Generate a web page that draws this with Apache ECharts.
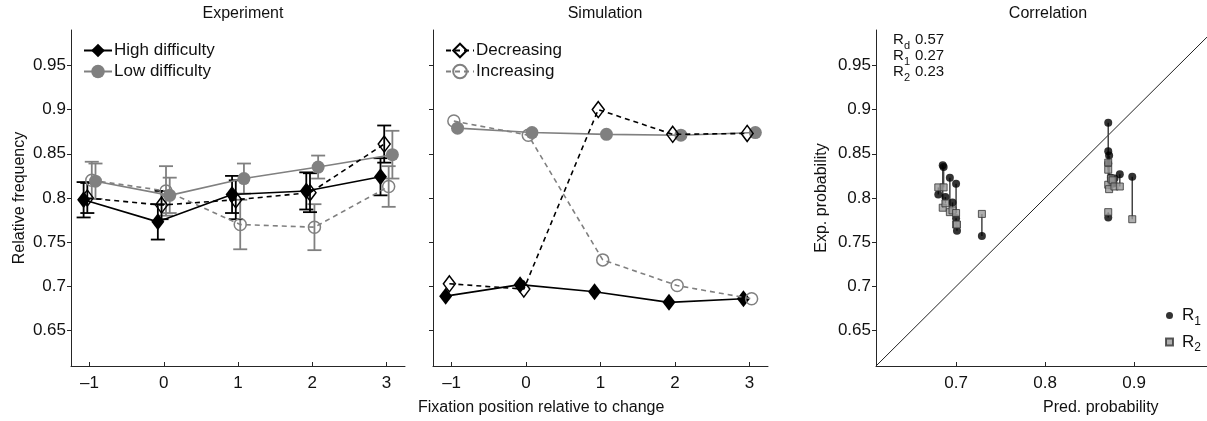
<!DOCTYPE html>
<html>
<head>
<meta charset="utf-8">
<script src="https://cdn.jsdelivr.net/npm/echarts@6/dist/echarts.min.js"></script>
<style>
  html, body { margin: 0; padding: 0; background: #fff; }
  #chart { width: 1207px; height: 421px; }
</style>
</head>
<body>
<div id="chart"></div>
<script>
// Fixation positions relative to the change
const positions = [-1, 0, 1, 2, 3];
const yTicks = [0.65, 0.7, 0.75, 0.8, 0.85, 0.9, 0.95];
const predTicks = [0.7, 0.8, 0.9];

// Experiment: means and error-bar half widths
const expHigh = [0.798, 0.773, 0.804, 0.808, 0.824];
const expHighErr = [0.020, 0.020, 0.021, 0.021, 0.021];
const expLow = [0.819, 0.803, 0.822, 0.835, 0.849];
const expLowErr = [0.020, 0.020, 0.017, 0.013, 0.027];
const expDec = [0.800, 0.792, 0.798, 0.806, 0.861];
const expDecErr = [0.017, 0.016, 0.022, 0.022, 0.021];
const expInc = [0.820, 0.808, 0.770, 0.767, 0.813];
const expIncErr = [0.021, 0.028, 0.028, 0.026, 0.023];

// Simulation
const simHigh = [0.689, 0.702, 0.694, 0.682, 0.686];
const simLow = [0.879, 0.874, 0.872, 0.871, 0.874];
const simDec = [0.703, 0.697, 0.900, 0.872, 0.873];
const simInc = [0.887, 0.871, 0.730, 0.701, 0.686];

// Correlation: predicted probability and the two experimental replicates
const corrPred = [0.680, 0.685, 0.686, 0.688, 0.693, 0.696, 0.700, 0.700, 0.701, 0.729,
                  0.871, 0.871, 0.871, 0.871, 0.872, 0.874, 0.876, 0.878, 0.884, 0.898];
const corrR1 = [0.804, 0.837, 0.835, 0.801, 0.823, 0.795, 0.816, 0.777, 0.763, 0.757,
                0.885, 0.853, 0.839, 0.778, 0.848, 0.823, 0.816, 0.822, 0.827, 0.824];
const corrR2 = [0.812, 0.789, 0.812, 0.794, 0.784, 0.786, 0.783, 0.770, 0.770, 0.782,
                0.840, 0.832, 0.815, 0.784, 0.810, 0.822, 0.820, 0.813, 0.813, 0.776];
const corrStats = [['d', '0.57'], ['1', '0.27'], ['2', '0.23']];

const FONT = 'Liberation Sans, Arial, sans-serif';
const GRAY = '#808080';
const OFF = { high: -0.08, low: 0.08, dec: -0.03, inc: 0.03 };

const chart = echarts.init(document.getElementById('chart'));

function pts(vals, off) { return positions.map((p, i) => [p + off, vals[i]]); }

function errBars(vals, errs, off, color) {
  return {
    type: 'custom', xAxisIndex: 0, yAxisIndex: 0, z: 1, silent: true,
    data: positions.map((p, i) => [p + off, vals[i], errs[i]]),
    encode: { x: 0, y: [1] },
    renderItem(params, api) {
      const x = api.value(0), m = api.value(1), e = api.value(2);
      const hi = api.coord([x, m + e]), lo = api.coord([x, m - e]);
      const w = 7, st = { stroke: color, lineWidth: 1.8 };
      return { type: 'group', children: [
        { type: 'line', shape: { x1: hi[0], y1: hi[1], x2: lo[0], y2: lo[1] }, style: st },
        { type: 'line', shape: { x1: hi[0] - w, y1: hi[1], x2: hi[0] + w, y2: hi[1] }, style: st },
        { type: 'line', shape: { x1: lo[0] - w, y1: lo[1], x2: lo[0] + w, y2: lo[1] }, style: st }
      ] };
    }
  };
}

const styles = {
  high: { name: 'High difficulty', symbol: 'diamond', symbolSize: [13, 17],
          itemStyle: { color: '#000' }, lineStyle: { color: '#000', width: 1.6, type: 'solid' } },
  low:  { name: 'Low difficulty', symbol: 'circle', symbolSize: 13,
          itemStyle: { color: GRAY }, lineStyle: { color: GRAY, width: 1.6, type: 'solid' } },
  dec:  { name: 'Decreasing', symbol: 'diamond', symbolSize: [12, 16],
          itemStyle: { color: 'rgba(255,255,255,0)', borderColor: '#000', borderWidth: 1.5 },
          lineStyle: { color: '#000', width: 1.6, type: [5, 4] } },
  inc:  { name: 'Increasing', symbol: 'circle', symbolSize: 12,
          itemStyle: { color: 'rgba(255,255,255,0)', borderColor: GRAY, borderWidth: 1.5 },
          lineStyle: { color: GRAY, width: 1.6, type: [5, 4] } }
};

function lineSeries(key, vals, axis, z) {
  const s = styles[key];
  return Object.assign({
    type: 'line', xAxisIndex: axis, yAxisIndex: axis, z: z,
    data: pts(vals, OFF[key]), showAllSymbol: true, animation: false,
    emphasis: { disabled: true }
  }, JSON.parse(JSON.stringify(s)));
}

const fmtPos = v => (v < 0 ? '\u2013' + Math.abs(v) : String(v));
const AXIS_LINE = { show: true, onZero: false, lineStyle: { color: '#262626', width: 1 } };

function posAxis(i) {
  return {
    type: 'value', gridIndex: i, min: -1.25, max: 3.25,
    axisLine: AXIS_LINE,
    axisTick: { show: true, inside: true, length: 4, customValues: positions, lineStyle: { color: '#262626' } },
    axisLabel: { customValues: positions, formatter: fmtPos, fontSize: 17, color: '#111', fontFamily: FONT, margin: 9 },
    splitLine: { show: false }
  };
}
function probAxis(i, labels) {
  return {
    type: 'value', gridIndex: i, min: 0.61, max: 0.99,
    axisLine: AXIS_LINE,
    axisTick: { show: true, inside: false, length: 4, customValues: yTicks, lineStyle: { color: '#262626' } },
    axisLabel: { show: labels, customValues: yTicks, fontSize: 17, color: '#111', fontFamily: FONT, margin: 5,
                 formatter: v => String(v) },
    splitLine: { show: false }
  };
}

const rich = {
  r: { fontSize: 17, fontFamily: FONT, color: '#111', lineHeight: 22, verticalAlign: 'middle' },
  s: { fontSize: 12, fontFamily: FONT, color: '#111', padding: [12, 0, 0, 0], verticalAlign: 'middle' }
};

const statTexts = [];
corrStats.forEach((st, i) => {
  const y = 32 + i * 16;
  statTexts.push({ type: 'text', left: 893, top: y, style: { text: 'R', font: '15px ' + FONT, fill: '#111' } });
  statTexts.push({ type: 'text', left: 904, top: y + 8, style: { text: st[0], font: '11px ' + FONT, fill: '#111' } });
  statTexts.push({ type: 'text', left: 915, top: y, style: { text: st[1], font: '15px ' + FONT, fill: '#111' } });
});

const option = {
  backgroundColor: '#fff',
  animation: false,
  textStyle: { fontFamily: FONT },
  title: [
    { text: 'Experiment', left: 238, top: 1, textAlign: 'center', textStyle: { fontSize: 16, fontWeight: 'normal', color: '#111', fontFamily: FONT } },
    { text: 'Simulation', left: 600, top: 1, textAlign: 'center', textStyle: { fontSize: 16, fontWeight: 'normal', color: '#111', fontFamily: FONT } },
    { text: 'Correlation', left: 1043, top: 1, textAlign: 'center', textStyle: { fontSize: 16, fontWeight: 'normal', color: '#111', fontFamily: FONT } }
  ],
  grid: [
    { left: 71, top: 30, width: 334, height: 336 },
    { left: 433, top: 30, width: 335, height: 336 },
    { left: 876, top: 30, width: 331, height: 336 }
  ],
  xAxis: [
    posAxis(0), posAxis(1),
    {
      type: 'value', gridIndex: 2, min: 0.61, max: 0.982,
      axisLine: AXIS_LINE,
      axisTick: { show: true, inside: true, length: 4, customValues: predTicks, lineStyle: { color: '#262626' } },
      axisLabel: { customValues: predTicks, fontSize: 17, color: '#111', fontFamily: FONT, margin: 9, formatter: v => String(v) },
      splitLine: { show: false }
    }
  ],
  yAxis: [probAxis(0, true), probAxis(1, false), probAxis(2, true)],
  legend: [
    { data: ['High difficulty', 'Low difficulty'], left: 78, top: 37, orient: 'vertical', itemGap: 4,
      itemWidth: 28, itemHeight: 17, selectedMode: false,
      textStyle: { fontSize: 17, color: '#111', fontFamily: FONT, padding: [0, 0, 0, -3] } },
    { data: ['Decreasing', 'Increasing'], left: 440, top: 37, orient: 'vertical', itemGap: 4,
      itemWidth: 28, itemHeight: 17, selectedMode: false,
      textStyle: { fontSize: 17, color: '#111', fontFamily: FONT, padding: [0, 0, 0, -3] } },
    { data: ['R1', 'R2'], left: 1160, top: 302, orient: 'vertical', itemGap: 6,
      itemWidth: 7, itemHeight: 7, selectedMode: false,
      formatter: n => '{r|R}{s|' + n.slice(1) + '}',
      textStyle: { rich: rich, padding: [0, 0, 0, 4] } }
  ],
  graphic: [
    { type: 'text', left: 418, top: 400, style: { text: 'Fixation position relative to change', font: '16px ' + FONT, fill: '#111', textAlign: 'center' } },
    { type: 'text', left: 1043, top: 400, style: { text: 'Pred. probability', font: '16px ' + FONT, fill: '#111', textAlign: 'center' } },
    { type: 'text', x: 20, y: 198, rotation: Math.PI / 2,
      style: { text: 'Relative frequency', font: '16px ' + FONT, fill: '#111', textAlign: 'center', textVerticalAlign: 'middle' } },
    { type: 'text', x: 822, y: 198, rotation: Math.PI / 2,
      style: { text: 'Exp. probability', font: '16px ' + FONT, fill: '#111', textAlign: 'center', textVerticalAlign: 'middle' } }
  ].concat(statTexts),
  series: [
    // Experiment panel
    errBars(expInc, expIncErr, OFF.inc, GRAY),
    errBars(expLow, expLowErr, OFF.low, GRAY),
    errBars(expDec, expDecErr, OFF.dec, '#000'),
    errBars(expHigh, expHighErr, OFF.high, '#000'),
    lineSeries('inc', expInc, 0, 3),
    lineSeries('low', expLow, 0, 4),
    lineSeries('dec', expDec, 0, 5),
    lineSeries('high', expHigh, 0, 6),
    // Simulation panel
    lineSeries('low', simLow, 1, 3),
    lineSeries('high', simHigh, 1, 4),
    lineSeries('inc', simInc, 1, 5),
    lineSeries('dec', simDec, 1, 6),
    // Correlation panel
    {
      type: 'line', xAxisIndex: 2, yAxisIndex: 2, data: [[0.61, 0.61], [0.99, 0.99]],
      symbol: 'none', lineStyle: { color: '#222', width: 1 }, silent: true, z: 1
    },
    {
      type: 'custom', xAxisIndex: 2, yAxisIndex: 2, z: 2, silent: true,
      data: corrPred.map((p, i) => [p, corrR1[i], corrR2[i]]),
      encode: { x: 0, y: [1, 2] },
      renderItem(params, api) {
        const a = api.coord([api.value(0), api.value(1)]);
        const b = api.coord([api.value(0), api.value(2)]);
        return { type: 'line', shape: { x1: a[0], y1: a[1], x2: b[0], y2: b[1] },
                 style: { stroke: '#444', lineWidth: 1.5 } };
      }
    },
    {
      name: 'R1', type: 'scatter', xAxisIndex: 2, yAxisIndex: 2, z: 3,
      data: corrPred.map((p, i) => [p, corrR1[i]]),
      symbol: 'circle', symbolSize: 8, itemStyle: { color: '#000' }, emphasis: { disabled: true }
    },
    {
      name: 'R2', type: 'scatter', xAxisIndex: 2, yAxisIndex: 2, z: 4,
      data: corrPred.map((p, i) => [p, corrR2[i]]),
      symbol: 'rect', symbolSize: 7, itemStyle: { color: '#9a9a9a', borderColor: '#333', borderWidth: 1 },
      emphasis: { disabled: true }
    }
  ]
};

chart.setOption(option);
</script>
</body>
</html>
